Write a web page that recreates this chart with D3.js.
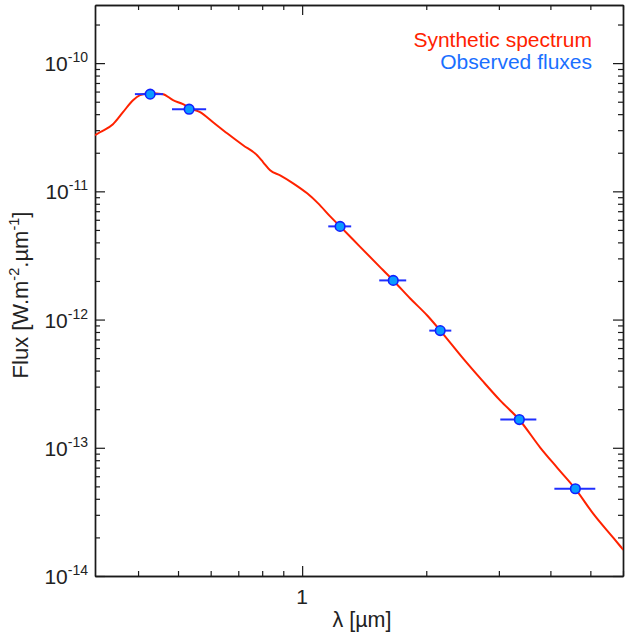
<!DOCTYPE html>
<html>
<head>
<meta charset="utf-8">
<script src="https://cdn.jsdelivr.net/npm/d3@7"></script>
<style>
  html, body { margin: 0; padding: 0; background: #fff; }
  svg { display: block; font-family: "Liberation Sans", Arial, sans-serif; }
</style>
</head>
<body>
<svg id="chart" width="625" height="634"></svg>
<script>
// ---- Data ----
// Synthetic spectrum (wavelength in µm, flux in W.m-2.µm-1)
const specLambda = [0.3145, 0.3234, 0.3477, 0.3677, 0.3889, 0.4044, 0.4276, 0.4599, 0.4862, 0.5142,
  0.5347, 0.5656, 0.6081, 0.6577, 0.7191, 0.7776, 0.8045, 0.8362, 0.8843, 0.9510,
  1.0283, 1.0935, 1.1694, 1.2364, 1.3826, 1.5725, 1.6632, 1.8286, 2.0112, 2.1627,
  2.4590, 2.7352, 3.0241, 3.3625, 3.7825, 4.1573, 4.5988, 5.0852, 5.6866, 6.0139];
const specFlux = [2.74e-11, 2.89e-11, 3.337e-11, 4.142e-11, 5.141e-11, 5.623e-11, 5.829e-11, 5.726e-11, 5.141e-11, 4.782e-11,
  4.452e-11, 4.142e-11, 3.459e-11, 2.838e-11, 2.288e-11, 1.911e-11, 1.685e-11, 1.459e-11, 1.334e-11, 1.155e-11,
  9.647e-12, 8.058e-12, 6.377e-12, 5.328e-12, 3.69e-12, 2.423e-12, 2.018e-12, 1.459e-12, 1.075e-12, 8.204e-13,
  4.957e-13, 3.338e-13, 2.330e-13, 1.655e-13, 1.0e-13, 6.977e-14, 4.782e-14, 3.051e-14, 1.981e-14, 1.596e-14];

// Observed fluxes with wavelength bandwidths
const obsLambda = [0.428, 0.532, 1.236, 1.663, 2.162, 3.363, 4.598];
const obsLambdaMin = [0.393, 0.4835, 1.157, 1.538, 2.034, 3.024, 4.09];
const obsLambdaMax = [0.460, 0.585, 1.315, 1.788, 2.300, 3.698, 5.14];
const obsFlux = [5.73e-11, 4.37e-11, 5.33e-12, 2.02e-12, 8.2e-13, 1.66e-13, 4.79e-14];

// Axes
const xDomain = [0.3145, 6.0];
const yDomain = [1e-14, 2.84e-10];
const yMajorTicks = [1e-14, 1e-13, 1e-12, 1e-11, 1e-10];
const yTickExponents = ["-14", "-13", "-12", "-11", "-10"];
const xMajorTicks = [1];
const xTickLabels = ["1"];
const legendLabels = ["Synthetic spectrum", "Observed fluxes"];

// ---- Layout ----
const mLeft = 95, mRight = 623, mTop = 5, mBottom = 576;
const svg = d3.select("#chart");

const x = d3.scaleLog().domain(xDomain).range([mLeft, mRight]);
const y = d3.scaleLog().domain(yDomain).range([mBottom, mTop]);

// minor ticks
function logMinor(domain) {
  const out = [];
  const lo = Math.floor(Math.log10(domain[0])), hi = Math.ceil(Math.log10(domain[1]));
  for (let e = lo; e <= hi; e++) {
    for (let m = 2; m <= 9; m++) {
      const v = m * Math.pow(10, e);
      if (v >= domain[0] && v <= domain[1]) out.push(+v.toPrecision(6));
    }
  }
  return out;
}
const xMinor = logMinor(xDomain);
const yMinor = logMinor(yDomain);

const axisColor = "#1a1a1a";
function styleAxis(g) {
  g.select(".domain").attr("stroke", axisColor).attr("stroke-width", 1.4);
  g.selectAll(".tick line").attr("stroke", axisColor).attr("stroke-width", 1.2);
  g.selectAll(".tick text").remove();
}

// Left axis
svg.append("g").attr("transform", `translate(${mLeft},0)`)
  .call(d3.axisLeft(y).tickValues(yMajorTicks).tickSize(-10).tickSizeOuter(0).tickFormat(""))
  .call(styleAxis);
svg.append("g").attr("transform", `translate(${mLeft},0)`)
  .call(d3.axisLeft(y).tickValues(yMinor).tickSize(-5).tickSizeOuter(0).tickFormat(""))
  .call(styleAxis);
// Right axis
svg.append("g").attr("transform", `translate(${mRight},0)`)
  .call(d3.axisRight(y).tickValues(yMajorTicks).tickSize(-10).tickSizeOuter(0).tickFormat(""))
  .call(styleAxis);
svg.append("g").attr("transform", `translate(${mRight},0)`)
  .call(d3.axisRight(y).tickValues(yMinor).tickSize(-5).tickSizeOuter(0).tickFormat(""))
  .call(styleAxis);
// Bottom axis
svg.append("g").attr("transform", `translate(0,${mBottom})`)
  .call(d3.axisBottom(x).tickValues(xMajorTicks).tickSize(-10).tickSizeOuter(0).tickFormat(""))
  .call(styleAxis);
svg.append("g").attr("transform", `translate(0,${mBottom})`)
  .call(d3.axisBottom(x).tickValues(xMinor).tickSize(-5).tickSizeOuter(0).tickFormat(""))
  .call(styleAxis);
// Top axis
svg.append("g").attr("transform", `translate(0,${mTop})`)
  .call(d3.axisTop(x).tickValues(xMajorTicks).tickSize(-10).tickSizeOuter(0).tickFormat(""))
  .call(styleAxis);
svg.append("g").attr("transform", `translate(0,${mTop})`)
  .call(d3.axisTop(x).tickValues(xMinor).tickSize(-5).tickSizeOuter(0).tickFormat(""))
  .call(styleAxis);

// Y tick labels (10^n)
yMajorTicks.forEach((v, i) => {
  const t = svg.append("text")
    .attr("x", 88).attr("y", y(v) + 8)
    .attr("text-anchor", "end")
    .attr("font-size", 21).attr("fill", "#222");
  t.append("tspan").text("10");
  t.append("tspan").attr("font-size", 14).attr("dy", -9).text(yTickExponents[i]);
});
// X tick labels
xMajorTicks.forEach((v, i) => {
  svg.append("text").attr("x", x(v)).attr("y", 604)
    .attr("text-anchor", "middle").attr("font-size", 21).attr("fill", "#222")
    .text(xTickLabels[i]);
});

// Axis titles
svg.append("text").attr("x", 362).attr("y", 627)
  .attr("text-anchor", "middle").attr("font-size", 21.5).attr("fill", "#222")
  .text("λ [µm]");
const yl = svg.append("text")
  .attr("transform", `translate(28,${295}) rotate(-90)`)
  .attr("text-anchor", "middle").attr("font-size", 22).attr("fill", "#222");
yl.append("tspan").text("Flux [W.m");
yl.append("tspan").attr("font-size", 14.5).attr("dy", -9).text("-2");
yl.append("tspan").attr("dy", 9).text(".µm");
yl.append("tspan").attr("font-size", 14.5).attr("dy", -9).text("-1");
yl.append("tspan").attr("dy", 9).text("]");

// Clip
svg.append("clipPath").attr("id", "clip").append("rect")
  .attr("x", mLeft).attr("y", mTop).attr("width", mRight - mLeft).attr("height", mBottom - mTop);

// Spectrum
const specData = specLambda.map((l, i) => [l, specFlux[i]]);
svg.append("path")
  .attr("clip-path", "url(#clip)")
  .datum(specData)
  .attr("fill", "none")
  .attr("stroke", "#ff2200")
  .attr("stroke-width", 2)
  .attr("d", d3.line().x(d => x(d[0])).y(d => y(d[1])).curve(d3.curveMonotoneX));

// Error bars
const obs = obsLambda.map((l, i) => ({l, lo: obsLambdaMin[i], hi: obsLambdaMax[i], f: obsFlux[i]}));
svg.append("g").selectAll("line").data(obs).join("line")
  .attr("x1", d => x(d.lo)).attr("x2", d => x(d.hi))
  .attr("y1", d => y(d.f)).attr("y2", d => y(d.f))
  .attr("stroke", "#1f2fff").attr("stroke-width", 2);
svg.append("g").selectAll("circle").data(obs).join("circle")
  .attr("cx", d => x(d.l)).attr("cy", d => y(d.f)).attr("r", 4.8)
  .attr("fill", "#0a9bff").attr("stroke", "#1020ff").attr("stroke-width", 1.6);

// Legend
svg.append("text").attr("x", 592).attr("y", 47).attr("text-anchor", "end")
  .attr("font-size", 21).attr("fill", "#ff2200").text(legendLabels[0]);
svg.append("text").attr("x", 592).attr("y", 69).attr("text-anchor", "end")
  .attr("font-size", 21).attr("fill", "#1a6fff").text(legendLabels[1]);
</script>
</body>
</html>
